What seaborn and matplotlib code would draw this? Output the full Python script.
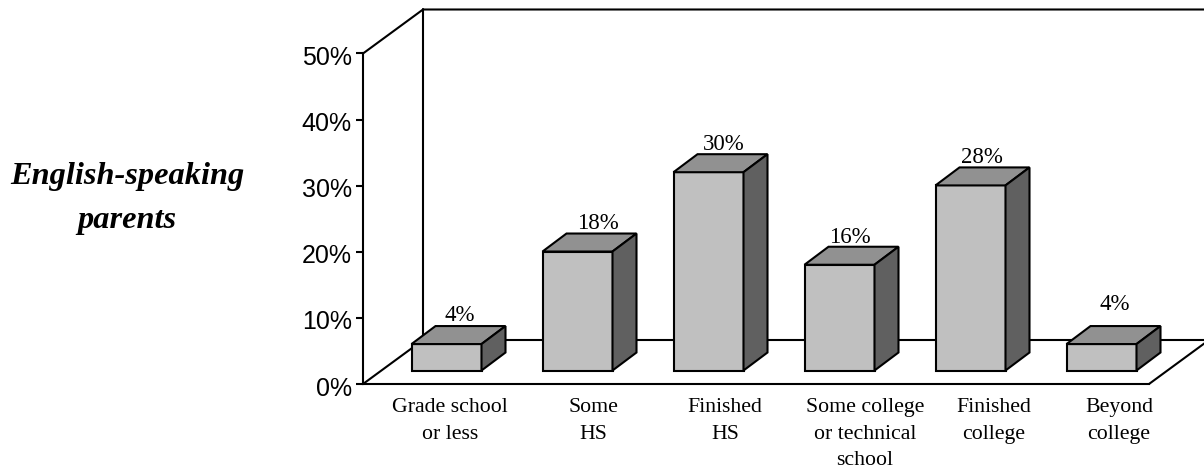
import matplotlib
matplotlib.use("Agg")
import matplotlib.pyplot as plt
import seaborn as sns
from matplotlib.patches import Polygon
from matplotlib.ticker import PercentFormatter
from matplotlib.transforms import ScaledTranslation

# values
categories = ["Grade school\nor less", "Some\nHS", "Finished\nHS",
              "Some college\nor technical\nschool", "Finished\ncollege", "Beyond\ncollege"]
values = [4, 18, 30, 16, 28, 4]
yticks = [0, 10, 20, 30, 40, 50]

# the labels sit in hand placed boxes in the original (pixels)
xlabel_nudge = [21.5, 33.5, 34.5, 43.5, 41.5, 35.5]
value_nudge_x = [1, 8, 3, -2, -1, 1]
value_nudge_y = [1, 1, 0, 0, 0, 12]

FRONT, TOP, SIDE = "#c0c0c0", "#919191", "#606060"
LW = 1.5

sns.set_theme(style="white")

W, H = 1204, 468
x0, x1, y0, y1 = 363, 1149, 384, 53.5
fig = plt.figure(figsize=(W / 100, H / 100), dpi=100)
ax = fig.add_axes([x0 / W, 1 - y0 / H, (x1 - x0) / W, (y0 - y1) / H])

cat_px = (x1 - x0) / 6
pct_px = (y0 - y1) / 50

sns.barplot(x=categories, y=values, color=FRONT, saturation=1, width=70 / cat_px,
            edgecolor="black", linewidth=LW, zorder=3, ax=ax)
ax.set_xlim(-0.5, 5.5)
ax.set_ylim(0, 50)

# box of the chart: back wall and floor
wall_x, wall_y = 60 / (x1 - x0), 44 / (y0 - y1)
for xs, ys in [([0, wall_x, 1 + wall_x], [1, 1 + wall_y, 1 + wall_y]),
               ([wall_x, wall_x], [wall_y, 1 + wall_y]),
               ([0, wall_x, 1 + wall_x, 1], [0, wall_y, wall_y, 0])]:
    ax.plot(xs, ys, color="black", lw=LW, transform=ax.transAxes, clip_on=False, zorder=1)

# push the bars into the floor, then add top and side faces
shift_x, shift_y = 18 / cat_px, 13.5 / pct_px
dx, dy = 24 / cat_px, 18 / pct_px
for i, bar in enumerate(ax.patches):
    bar.set_x(bar.get_x() + shift_x)
    bar.set_y(shift_y)
    l, b, w, h = bar.get_x(), bar.get_y(), bar.get_width(), bar.get_height()
    r, t = l + w, b + h
    ax.add_patch(Polygon([(l, t), (l + dx, t + dy), (r + dx, t + dy), (r, t)],
                         fc=TOP, ec="black", lw=LW, zorder=3, clip_on=False))
    ax.add_patch(Polygon([(r, b), (r + dx, b + dy), (r + dx, t + dy), (r, t)],
                         fc=SIDE, ec="black", lw=LW, zorder=3, clip_on=False))
    ax.annotate(f"{values[i]}%", (l + w / 2 + dx / 2, t + dy),
                xytext=(value_nudge_x[i], value_nudge_y[i] - 1), textcoords="offset pixels",
                ha="center", va="bottom", family="Liberation Serif", fontsize=16.5,
                color="black", zorder=4)

sns.despine(ax=ax)
for side in ["left", "bottom"]:
    ax.spines[side].set_linewidth(LW)
    ax.spines[side].set_color("black")

ax.set_yticks(yticks)
ax.yaxis.set_major_formatter(PercentFormatter(decimals=0))
ax.tick_params(axis="y", left=True, length=5, width=LW, color="black", pad=3,
               labelsize=18, labelcolor="black")
for lab in ax.get_yticklabels():
    lab.set_family("Liberation Sans")
    lab.set_transform(lab.get_transform() + ScaledTranslation(0, -0.02, fig.dpi_scale_trans))

ax.tick_params(axis="x", bottom=False, pad=4, labelsize=15.7, labelcolor="black")
for lab, nudge in zip(ax.get_xticklabels(), xlabel_nudge):
    lab.set_family("Liberation Serif")
    lab.set_linespacing(1.55)
    lab.set_transform(lab.get_transform() + ScaledTranslation(nudge / 100, 0, fig.dpi_scale_trans))

fig.text(127 / W, 1 - 198.5 / H, "English-speaking\nparents", ha="center", va="center",
         family="Liberation Serif", weight="bold", style="italic", fontsize=23.3,
         linespacing=1.67, color="black")

fig.savefig("out.png", dpi=100)
